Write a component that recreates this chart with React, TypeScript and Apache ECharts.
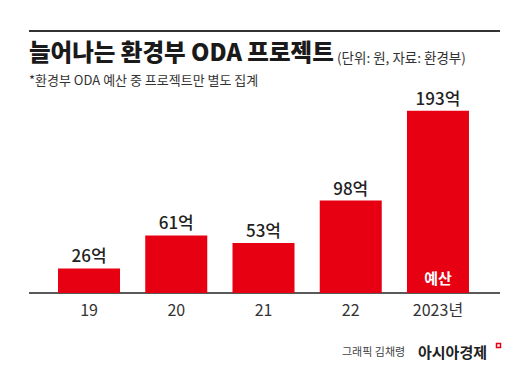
import React, { useEffect, useRef } from "react";
import * as echarts from "echarts";

const categories = ["19", "20", "21", "22", "2023년"];
const values = [26, 61, 53, 98, 193];
const insideLabels = ["", "", "", "", "예산"];

const FONT = "'Noto Sans CJK KR', 'Noto Sans', sans-serif";
const RED = "#e60012";

export default function App() {
  const ref = useRef<HTMLDivElement>(null);
  useEffect(() => {
    if (!ref.current) return;
    const chart = echarts.init(ref.current, null, { renderer: "svg" });
    chart.setOption({
      animation: false,
      backgroundColor: "#ffffff",
      textStyle: { fontFamily: FONT },
      grid: { left: 45.4, right: 48.4, top: 104.2, bottom: 78 },
      xAxis: {
        type: "category",
        data: categories,
        axisLine: { show: false },
        axisTick: { show: false },
        axisLabel: { fontSize: 16, color: "#333", margin: 8, fontFamily: FONT },
      },
      yAxis: {
        type: "value",
        min: 0,
        max: 200,
        show: false,
        splitLine: { show: false },
      },
      series: [
        {
          type: "bar",
          data: values,
          barWidth: 62,
          itemStyle: { color: RED },
          label: {
            show: true,
            position: "top",
            distance: 5,
            formatter: "{c}억",
            fontSize: 17,
            fontWeight: 500,
            color: "#222",
            fontFamily: FONT,
          },
        },
        {
          type: "bar",
          data: values.map((v, i) => ({
            value: v,
            label: { show: insideLabels[i] !== "", formatter: insideLabels[i] },
          })),
          barWidth: 62,
          barGap: "-100%",
          silent: true,
          itemStyle: { color: "transparent" },
          label: {
            show: true,
            position: "insideBottom",
            distance: 8,
            fontSize: 15,
            fontWeight: "bold",
            color: "#ffffff",
            fontFamily: FONT,
          },
        },
      ],
      graphic: [
        {
          type: "line",
          shape: { x1: 29, y1: 31, x2: 500, y2: 31 },
          style: { stroke: "#333", lineWidth: 2 },
        },
        {
          type: "text",
          x: 29,
          y: 51,
          style: {
            text: "늘어나는 환경부 ODA 프로젝트",
            font: `900 23.5px ${FONT}`,
            fill: "#1a1a1a",
            textVerticalAlign: "middle",
          },
        },
        {
          type: "text",
          x: 337,
          y: 57,
          style: {
            text: "(단위: 원, 자료: 환경부)",
            font: `13.5px ${FONT}`,
            fill: "#333",
            textVerticalAlign: "middle",
          },
        },
        {
          type: "text",
          x: 29,
          y: 79,
          style: {
            text: "*환경부 ODA 예산 중 프로젝트만 별도 집계",
            font: `13px ${FONT}`,
            fill: "#333",
            textVerticalAlign: "middle",
          },
        },
        {
          type: "line",
          shape: { x1: 29, y1: 293, x2: 500, y2: 293 },
          style: { stroke: "#222", lineWidth: 1.5 },
        },
        {
          type: "text",
          x: 342,
          y: 351,
          style: {
            text: "그래픽 김채령",
            font: `11px ${FONT}`,
            fill: "#444",
            textVerticalAlign: "middle",
          },
        },
        {
          type: "text",
          x: 418,
          y: 351,
          style: {
            text: "아시아경제",
            font: `bold 15px ${FONT}`,
            fill: "#222",
            textVerticalAlign: "middle",
          },
        },
        {
          type: "rect",
          shape: { x: 496.5, y: 343.5, width: 4, height: 4 },
          style: { fill: "#fff", stroke: RED, lineWidth: 1.5 },
        },
      ],
    });
    return () => chart.dispose();
  }, []);
  return (
    <div
      ref={ref}
      style={{ position: "fixed", left: 0, top: 0, width: 530, height: 371 }}
    />
  );
}
